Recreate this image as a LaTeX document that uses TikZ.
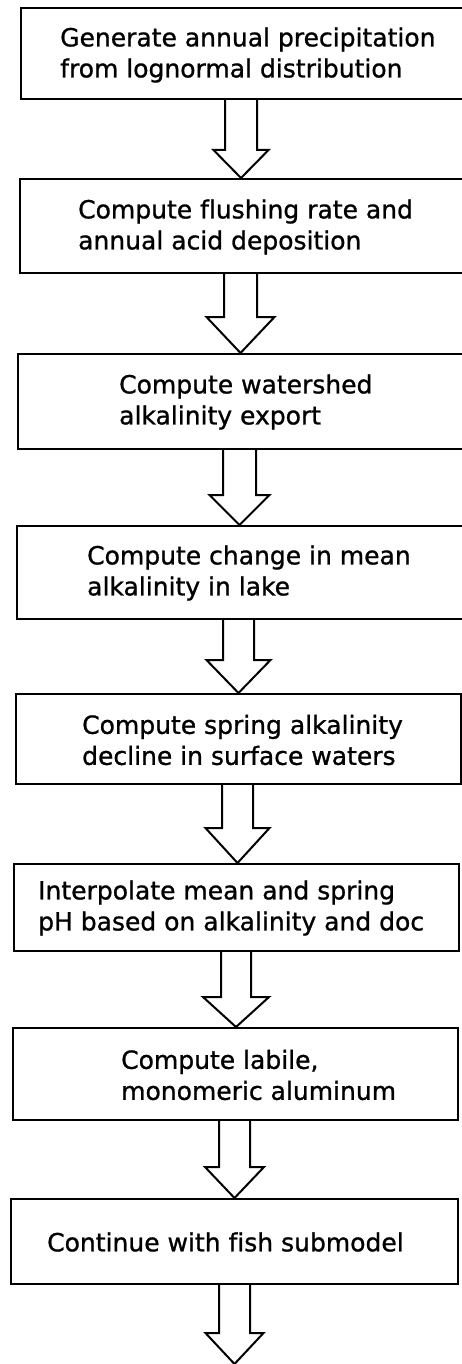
\documentclass[tikz,border=0pt]{standalone}
\usepackage{fontspec}
\setmainfont{DejaVu Sans}[Ligatures=NoCommon, FakeBold=1]
\usetikzlibrary{calc}

\tikzset{
  stepbox/.style={draw, line width=2.2pt, inner sep=0pt, anchor=north west},
  steptext/.style={anchor=west, align=left, inner sep=0pt,
    font=\fontsize{25pt}{31pt}\selectfont},
  blockarrow/.style={draw, line width=2pt, line join=miter, fill=white}
}

% hollow block arrow from the bottom of #1 to the top of #2
% #3 = axis x, #4 = shaft half width, #5 = head half width, #6 = head length
\newcommand{\flowarrow}[6]{%
  \draw[blockarrow]
    (#3-#4,0 |- #1.south) -- ($(#3-#4,0 |- #2.north)+(0,-#6)$)
    -- ($(#3-#5,0 |- #2.north)+(0,-#6)$) -- (#3,0 |- #2.north)
    -- ($(#3+#5,0 |- #2.north)+(0,-#6)$) -- ($(#3+#4,0 |- #2.north)+(0,-#6)$)
    -- (#3+#4,0 |- #1.south);}

\begin{document}
\begin{tikzpicture}[x=1pt, y=-1pt]
\useasboundingbox (0,0) rectangle (462,1364);
\clip (0,0) rectangle (462,1364);

% process boxes (the upper four run past the right margin)
\node[stepbox, minimum width=450pt, minimum height=91pt] (b1) at (20,7) {};
\node[stepbox, minimum width=451pt, minimum height=94pt] (b2) at (19,178) {};
\node[stepbox, minimum width=453pt, minimum height=95pt] (b3) at (17,353) {};
\node[stepbox, minimum width=454pt, minimum height=93pt] (b4) at (16,525) {};
\node[stepbox, minimum width=445pt, minimum height=90pt] (b5) at (15,693) {};
\node[stepbox, minimum width=445pt, minimum height=87pt] (b6) at (13,863) {};
\node[stepbox, minimum width=445pt, minimum height=92pt] (b7) at (12,1027) {};
\node[stepbox, minimum width=447pt, minimum height=85pt] (b8) at (10,1198) {};
\coordinate (end) at (234.5,1364);

% box texts
\node[steptext] (t1) at (60,55) {Generate annual precipitation\\from lognormal distribution};
\node[steptext] (t2) at (78,227) {Compute flushing rate and\\annual acid deposition};
\node[steptext] (t3) at (119,402) {Compute watershed\\alkalinity export};
\node[steptext] (t4) at (87,573) {Compute change in mean\\alkalinity in lake};
\node[steptext] (t5) at (82,740) {Compute spring alkalinity\\decline in surface waters};
\node[steptext] (t6) at (38,908) {Interpolate mean and spring\\pH based on alkalinity and doc};
\node[steptext] (t7) at (121,1075) {Compute labile,\\monomeric aluminum};
\node[steptext] (t8) at (47,1242) {Continue with fish submodel};

% connecting block arrows
\flowarrow{b1}{b2}{241}{16}{27.5}{28}
\flowarrow{b2}{b3}{240.5}{16.5}{34}{36}
\flowarrow{b3}{b4}{239.5}{16.5}{30}{30}
\flowarrow{b4}{b5}{238.5}{15.5}{32}{33}
\flowarrow{b5}{b6}{237.5}{15.5}{32}{35}
\flowarrow{b6}{b7}{236}{15}{33}{30}
\flowarrow{b7}{b8}{234.5}{15.5}{29.5}{31}
\flowarrow{b8}{end}{234.5}{15.5}{29}{31}
\end{tikzpicture}
\end{document}
